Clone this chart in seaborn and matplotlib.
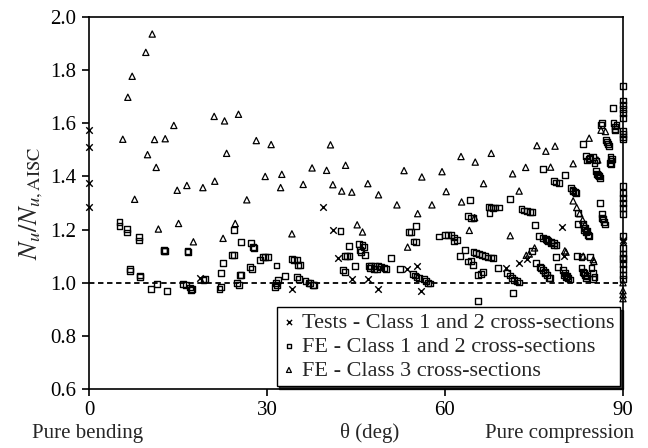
import matplotlib
matplotlib.use("Agg")
import matplotlib.pyplot as plt
import seaborn as sns
import pandas as pd

# Test results, Class 1 and 2 cross-sections
test_theta = [0, 0, 0, 0, 18.75, 34.25, 39.5, 41.1, 41.95, 44.3, 47.0, 48.7,
              53.6, 55.3, 56.0, 70.2, 72.4, 73.8, 79.8, 80.1, 90, 90]
test_ratio = [1.573, 1.51, 1.375, 1.285, 1.018, 0.978, 1.286, 1.197, 1.092, 1.014, 1.014, 0.975,
              1.05, 1.062, 0.97, 1.057, 1.075, 1.09, 1.21, 1.099, 1.162, 1.155]

# FE results, Class 1 and 2 cross-sections
fe12_theta = [
    5.15, 5.15, 6.4, 6.4, 8.5, 8.5, 12.6, 12.75, 12.7, 16.6, 16.75,
    6.95, 6.95, 8.6, 8.6, 10.5, 11.45, 13.1, 15.8, 16.3, 17.0, 17.4, 17.2,
    19.3, 19.6, 22.2, 22.0, 24.9, 25.3, 22.25, 22.6, 24.15, 24.5, 24.5, 25.6,
    27.3, 27.6, 27.8, 25.4, 25.6, 27.2, 27.5, 28.75, 29.3, 29.7, 30.1,
    31.6, 31.45, 31.4, 31.9, 31.7, 33.0, 34.2, 34.6, 35.0, 35.2, 35.6,
    35.0, 35.4, 36.5, 37.0, 37.3, 37.7, 38.0,
    42.4, 43.8, 43.1, 43.5, 43.9, 45.5, 46.1, 46.3, 45.7, 45.9, 46.5,
    42.8, 43.2, 44.8, 47.2, 47.6, 48.2, 48.8, 49.2, 49.8, 50.1, 47.4, 48.0, 48.6,
    50.9, 52.4, 53.9, 54.3, 55.1, 54.7, 55.1,
    54.6, 54.9, 55.2, 55.6, 56.4, 56.8, 57.2, 57.4,
    59.0, 60.0, 60.5, 61.1, 61.5, 62.1, 61.5, 63.3, 62.5, 64.2, 63.9, 64.4, 64.8, 63.9,
    70.9, 67.4, 67.75, 68.1, 68.5, 69.1, 67.5, 72.9, 73.3, 73.8, 74.3, 74.6,
    64.8, 65.3, 65.7, 66.3, 66.8, 67.3, 67.7, 68.1, 64.4, 64.7, 65.6, 66.0, 66.4,
    69.0, 70.5, 70.9, 71.3, 71.7, 72.1, 72.4, 71.5, 65.6,
    75.2, 75.9, 76.5, 77.0, 77.4, 77.9, 78.3, 78.8, 77.2, 77.8, 78.4,
    76.5, 78.3, 78.7, 79.2, 74.6, 75.3, 76.0, 76.5, 76.9, 77.2, 77.5, 77.7, 76.2, 76.8,
    78.7, 79.1, 80.2, 81.3, 81.6, 82.1, 81.5, 81.9, 82.4,
    82.4, 83.3, 83.6, 83.9, 84.1, 83.4, 83.8, 84.3,
    82.2, 83.0, 84.4, 79.9, 80.2, 80.5, 80.7, 80.0, 80.4, 81.0,
    83.0, 83.3, 83.6, 83.8, 84.7, 85.0, 85.2, 83.5, 84.0, 84.9,
    83.2, 83.8, 84.2, 84.9, 85.5, 84.5, 84.0, 85.2,
    85.4, 85.8, 86.1, 85.6, 86.0, 86.1, 86.4, 86.6, 86.9, 86.5, 86.8,
    86.3, 86.5, 88.3, 88.6, 88.6, 88.7, 88.9, 88.4, 87.1, 87.5, 87.3, 87.6,
    87.9, 88.0, 87.95, 87.8, 88.1,
    90, 90, 90, 90, 90, 90, 90, 90, 90, 90, 90, 90, 90, 90,
    90, 90, 90, 90, 90, 90, 90, 90, 90, 90, 90,
]
fe12_ratio = [
    1.228, 1.215, 1.202, 1.189, 1.172, 1.159, 1.122, 1.118, 1.12, 1.118, 1.114,
    1.051, 1.045, 1.027, 1.02, 0.977, 0.994, 0.968, 0.994, 0.99, 0.982, 0.977, 0.972,
    1.01, 1.014, 0.983, 0.978, 0.998, 0.993, 1.036, 1.074, 1.106, 1.103, 1.199, 1.154,
    1.148, 1.135, 1.13, 1.03, 1.028, 1.058, 1.052, 1.086, 1.097, 1.097, 1.096,
    1.065, 0.998, 0.985, 1.01, 0.99, 1.026, 1.088, 1.086, 1.086, 1.068, 1.066,
    1.02, 1.015, 1.007, 1.0, 0.998, 0.993, 0.992,
    1.193, 1.139, 1.102, 1.102, 1.1, 1.145, 1.141, 1.136, 1.122, 1.115, 1.103,
    1.047, 1.04, 1.062, 1.063, 1.063, 1.063, 1.062, 1.058, 1.055, 1.05, 1.055, 1.052, 1.05,
    1.092, 1.05, 1.19, 1.19, 1.213, 1.155, 1.153,
    1.033, 1.027, 1.02, 1.018, 1.014, 1.006, 0.998, 0.997,
    1.174, 1.178, 1.178, 1.178, 1.17, 1.162, 1.155, 1.122, 1.101, 1.31, 1.25, 1.245, 1.243, 1.08,
    1.316, 1.286, 1.283, 1.281, 1.283, 1.283, 1.264, 1.276, 1.272, 1.27, 1.267, 1.266,
    1.115, 1.113, 1.108, 1.103, 1.099, 1.095, 1.095, 1.092, 1.082, 1.067, 1.03, 1.032, 1.04,
    1.057, 1.036, 1.027, 1.017, 1.011, 1.005, 1.001, 0.96, 0.932,
    1.217, 1.175, 1.168, 1.166, 1.158, 1.152, 1.149, 1.142, 1.16, 1.15, 1.14,
    1.428, 1.384, 1.377, 1.374, 1.121, 1.073, 1.06, 1.047, 1.037, 1.028, 1.019, 1.017, 1.055, 1.04,
    1.098, 1.058, 1.406, 1.358, 1.345, 1.336, 1.35, 1.34, 1.264,
    1.22, 1.22, 1.207, 1.195, 1.18, 1.2, 1.19, 1.175,
    1.102, 1.098, 1.098, 1.048, 1.036, 1.024, 1.017, 1.03, 1.02, 1.012,
    1.054, 1.041, 1.029, 1.019, 1.054, 1.038, 1.023, 1.035, 1.025, 1.015,
    1.522, 1.478, 1.466, 1.472, 1.46, 1.47, 1.46, 1.45,
    1.422, 1.405, 1.393, 1.41, 1.4, 1.299, 1.257, 1.24, 1.219, 1.245, 1.23,
    1.593, 1.6, 1.658, 1.588, 1.573, 1.58, 1.595, 1.6, 1.538, 1.522, 1.53, 1.515,
    1.472, 1.446, 1.46, 1.45, 1.465,
    1.742, 1.686, 1.67, 1.655, 1.64, 1.62, 1.572, 1.56, 1.55, 1.541, 1.365, 1.338, 1.32, 1.30,
    1.28, 1.258, 1.175, 1.13, 1.11, 1.09, 1.07, 1.05, 1.03, 1.015, 1.095,
]

# FE results, Class 3 cross-sections
fe3_theta = [
    5.7, 6.55, 7.28, 9.58, 10.66, 11.05, 12.85, 14.3, 9.87, 11.33, 21.1, 22.85, 25.2,
    23.2, 28.2, 30.7, 29.7, 32.5, 32.3, 14.87, 16.5, 19.2, 21.2, 7.7, 26.6, 11.7, 15.1,
    24.65, 17.6, 22.6,
    36.1, 37.6, 40.05, 34.2, 40.7, 43.25, 41.1, 42.6, 44.3, 47.0, 48.8, 53.1, 56.1, 59.5,
    62.7, 51.9, 57.8, 60.2, 62.8, 55.4, 45.2, 46.1, 53.7, 64.1,
    65.1, 67.8, 75.5, 77.0, 78.55, 73.6, 77.8, 71.4, 66.5, 72.5, 65.0, 71.0, 75.1, 73.7, 74.2,
    84.3, 86.3, 87.05, 81.6, 85.75, 81.6, 82.2, 82.7, 83.2, 83.6, 80.2, 80.4, 83.3, 85.0, 85.1,
    90, 90, 90, 90,
]
fe3_ratio = [
    1.540, 1.698, 1.777, 1.867, 1.936, 1.539, 1.542, 1.592, 1.482, 1.434, 1.626, 1.609, 1.634,
    1.487, 1.535, 1.520, 1.400, 1.408, 1.358, 1.348, 1.366, 1.358, 1.382, 1.314, 1.312, 1.202, 1.223,
    1.223, 1.154, 1.167,
    1.370, 1.432, 1.423, 1.184, 1.519, 1.442, 1.369, 1.345, 1.341, 1.373, 1.331, 1.422, 1.398, 1.418,
    1.475, 1.293, 1.293, 1.343, 1.304, 1.260, 1.218, 1.191, 1.134, 1.197,
    1.454, 1.487, 1.516, 1.495, 1.514, 1.434, 1.435, 1.41, 1.373, 1.345, 1.245, 1.177, 1.131, 1.103, 1.108,
    1.544, 1.574, 1.569, 1.448, 1.462, 1.308, 1.283, 1.26, 1.236, 1.219, 1.12, 1.115, 1.1, 1.087, 1.08,
    1.0, 0.97, 0.955, 0.94,
]

tests = pd.DataFrame({"theta": test_theta, "ratio": test_ratio})
fe12 = pd.DataFrame({"theta": fe12_theta, "ratio": fe12_ratio})
fe3 = pd.DataFrame({"theta": fe3_theta, "ratio": fe3_ratio})

sns.set_style("ticks")
plt.rcParams["font.family"] = ["Liberation Serif", "DejaVu Serif"]
plt.rcParams["mathtext.fontset"] = "stix"

fig = plt.figure(figsize=(6.48, 4.48), dpi=100)
ax = fig.add_axes([0.1373, 0.1317, 0.8241, 0.8303])

sns.scatterplot(data=tests, x="theta", y="ratio", ax=ax, marker="x", color="black",
                s=22, linewidth=1.0, label="Tests - Class 1 and 2 cross-sections",
                zorder=3, clip_on=False)
sns.scatterplot(data=fe12, x="theta", y="ratio", ax=ax, marker="s", facecolor="none",
                edgecolor="black", s=18, linewidth=1.0,
                label="FE - Class 1 and 2 cross-sections", zorder=3, clip_on=False)
sns.scatterplot(data=fe3, x="theta", y="ratio", ax=ax, marker="^", facecolor="none",
                edgecolor="black", s=20, linewidth=0.9,
                label="FE - Class 3 cross-sections", zorder=3, clip_on=False)

ax.axhline(1.0, color="black", lw=1.3, ls=(0, (3, 2)), zorder=2)

ax.set_xlim(0, 90)
ax.set_ylim(0.6, 2.0)
ax.set_xticks([0, 30, 60, 90])
ax.set_yticks([0.6, 0.8, 1.0, 1.2, 1.4, 1.6, 1.8, 2.0])
ax.set_yticklabels(["0.6", "0.8", "1.0", "1.2", "1.4", "1.6", "1.8", "2.0"])
ax.tick_params(axis="both", direction="out", length=5, width=1.2, labelsize=15,
               colors="black", pad=4)
for sp in ax.spines.values():
    sp.set_visible(True)
    sp.set_linewidth(1.2)
    sp.set_color("black")

ax.set_xlabel("")
ax.set_ylabel(r"$N_{u}/N_{u,\mathrm{AISC}}$", fontsize=19, labelpad=4)

fig.text(88 / 648, 1 - 433 / 448, "Pure bending", ha="center", va="center", fontsize=15)
fig.text(370 / 648, 1 - 433 / 448, "θ (deg)", ha="center", va="center", fontsize=15)
fig.text(560 / 648, 1 - 433 / 448, "Pure compression", ha="center", va="center", fontsize=15)

leg = ax.legend(loc="lower right", fontsize=16, frameon=True, fancybox=False,
                shadow={"color": "black", "alpha": 0.8}, borderaxespad=0.12,
                handletextpad=0.3, handlelength=0.6, labelspacing=0.15,
                borderpad=0.25, markerscale=0.8)
leg.get_frame().set_edgecolor("black")
leg.get_frame().set_linewidth(1.0)

fig.savefig("out.png", dpi=100)
